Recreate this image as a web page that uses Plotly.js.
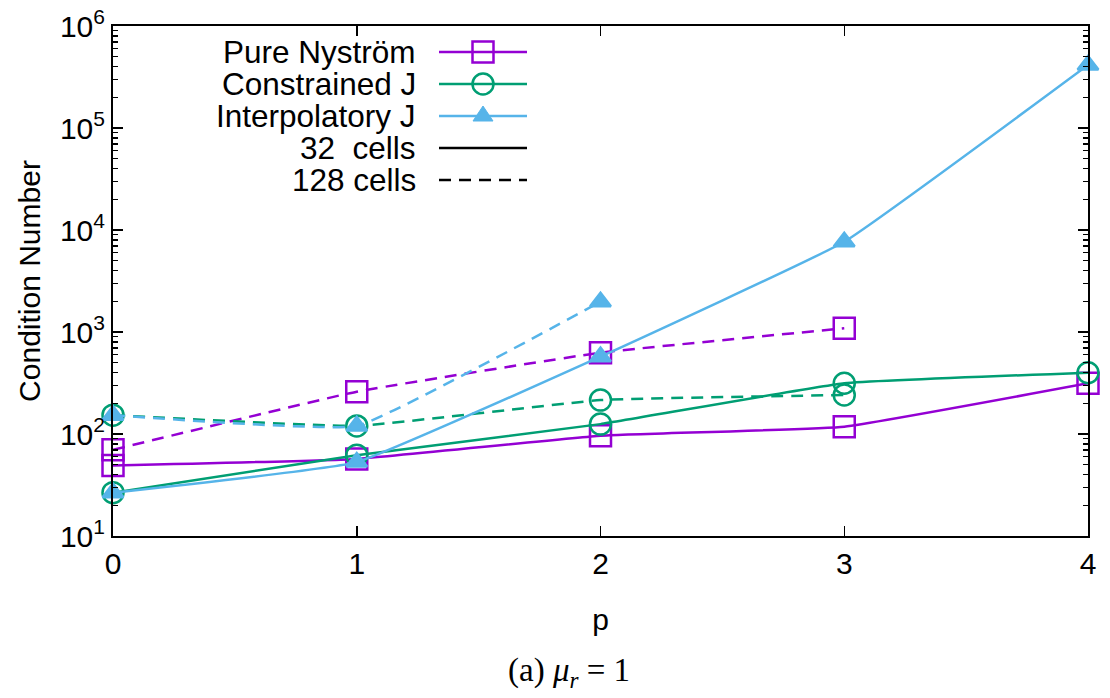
<!DOCTYPE html>
<html>
<head>
<meta charset="utf-8">
<script src="https://cdn.plot.ly/plotly-3.0.1.min.js"></script>
<style>html,body{margin:0;padding:0;background:#fff;}#chart{width:1110px;height:698px;}</style>
</head>
<body>
<div id="chart"></div>
<script>
// ---- data ----
const p = [0, 1, 2, 3, 4];
const pureNystrom32 = [49, 57, 96, 118, 314];
const pureNystrom128 = [70, 260, 627, 1087];
const constrainedJ32 = [26.6, 62, 125, 314, 399];
const constrainedJ128 = [153, 120, 215, 241];
const interpolatoryJ32 = [26.6, 53, 573, 7670, 415000];
const interpolatoryJ128 = [153, 120, 1980];
const seriesNames = ['Pure Nyström', 'Constrained J', 'Interpolatory J'];
const cellNames = ['32\u00a0\u00a0cells', '128 cells'];
const yTickVals = [10, 100, 1000, 10000, 100000, 1000000];
const yTickText = ['10<sup>1</sup>', '10<sup>2</sup>', '10<sup>3</sup>', '10<sup>4</sup>', '10<sup>5</sup>', '10<sup>6</sup>'];

// ---- styles ----
const colors = ['#9400d3', '#009e73', '#56b4e9'];
const symbols = ['square-open', 'circle-open', 'triangle-up'];
const sizes = [21, 21, 18];
const DASH = '12px,8px';
const FONT = 'Liberation Sans, Arial, sans-serif';

function trace(y, i, dashed) {
  return {
    x: p.slice(0, y.length), y: y, type: 'scatter', mode: 'lines+markers',
    line: {color: colors[i], width: 2.5, dash: dashed ? DASH : 'solid', shape: 'spline', smoothing: 0.3},
    marker: {symbol: symbols[i], size: sizes[i], color: colors[i], line: {color: colors[i], width: 2.5}},
    cliponaxis: false, showlegend: false, hoverinfo: 'skip'
  };
}
const data = [
  trace(pureNystrom128, 0, true), trace(constrainedJ128, 1, true), trace(interpolatoryJ128, 2, true),
  trace(pureNystrom32, 0, false), trace(constrainedJ32, 1, false), trace(interpolatoryJ32, 2, false)
];

// plot-area pixel frame
const L = 113, R = 1088, T = 26, B = 536;
const px = x => (x - L) / (R - L);
const py = y => (B - y) / (B - T);

// custom legend (text right, sample to the right as in gnuplot)
const rows = [52, 84, 116, 148, 180];
const txtRight = 418, lx0 = 439, lx1 = 527, mx = 483;
const shapes = [], annotations = [];
const legendLabels = seriesNames.concat(cellNames);
legendLabels.forEach((lab, k) => {
  annotations.push({xref: 'paper', yref: 'paper', x: px(txtRight), y: py(rows[k]), xanchor: 'right', yanchor: 'middle',
    text: lab, showarrow: false, font: {family: FONT, size: 31.5, color: '#000'}});
  const col = k < 3 ? colors[k] : '#000';
  shapes.push({type: 'line', xref: 'paper', yref: 'paper', x0: px(lx0), x1: px(lx1), y0: py(rows[k]), y1: py(rows[k]),
    line: {color: col, width: 2.5, dash: k === 4 ? DASH : 'solid'}});
});
const mk = {xref: 'paper', yref: 'paper', xsizemode: 'pixel', ysizemode: 'pixel'};
shapes.push(Object.assign({}, mk, {type: 'rect', xanchor: px(mx), yanchor: py(rows[0]), x0: -10.5, x1: 10.5, y0: -10.5, y1: 10.5,
  line: {color: colors[0], width: 2.5}, fillcolor: 'rgba(0,0,0,0)'}));
shapes.push(Object.assign({}, mk, {type: 'circle', xanchor: px(mx), yanchor: py(rows[1]), x0: -10.5, x1: 10.5, y0: -10.5, y1: 10.5,
  line: {color: colors[1], width: 2.5}, fillcolor: 'rgba(0,0,0,0)'}));
shapes.push(Object.assign({}, mk, {type: 'path', xanchor: px(mx), yanchor: py(rows[2]), path: 'M-10,-5 L10,-5 L0,10 Z',
  line: {color: colors[2], width: 1}, fillcolor: colors[2]}));

annotations.push({xref: 'paper', yref: 'paper', x: px(569), y: py(672), xanchor: 'center', yanchor: 'middle', showarrow: false,
  text: '(a) <i>μ</i><sub><i>r</i></sub> = 1', font: {family: 'Liberation Serif, Times New Roman, serif', size: 33, color: '#000'}});

const layout = {
  width: 1110, height: 698,
  margin: {l: L, r: 1110 - R, t: T, b: 698 - B},
  paper_bgcolor: '#fff', plot_bgcolor: '#fff',
  font: {family: FONT, size: 30, color: '#000'},
  showlegend: false,
  xaxis: {
    range: [0, 4], tickvals: p, ticktext: p.map(String),
    showline: true, linecolor: '#000', linewidth: 2, mirror: 'allticks',
    ticks: 'inside', ticklen: 10, tickwidth: 1.5, tickcolor: '#000',
    showgrid: false, zeroline: false,
    tickfont: {family: FONT, size: 30, color: '#000'},
    title: {text: 'p', font: {family: FONT, size: 30, color: '#000'}, standoff: 30}
  },
  yaxis: {
    type: 'log', range: [1, 6], tickvals: yTickVals, ticktext: yTickText,
    showline: true, linecolor: '#000', linewidth: 2, mirror: 'allticks',
    ticks: 'inside', ticklen: 10, tickwidth: 1.5, tickcolor: '#000',
    minor: {ticks: 'inside', ticklen: 5, tickwidth: 1.5, tickcolor: '#000', dtick: 'D1', showgrid: false},
    showgrid: false, zeroline: false,
    tickfont: {family: FONT, size: 30, color: '#000'},
    title: {text: 'Condition Number', font: {family: FONT, size: 30, color: '#000'}, standoff: 10}
  },
  shapes: shapes, annotations: annotations
};
Plotly.newPlot('chart', data, layout, {staticPlot: true, displayModeBar: false});
</script>
</body>
</html>
